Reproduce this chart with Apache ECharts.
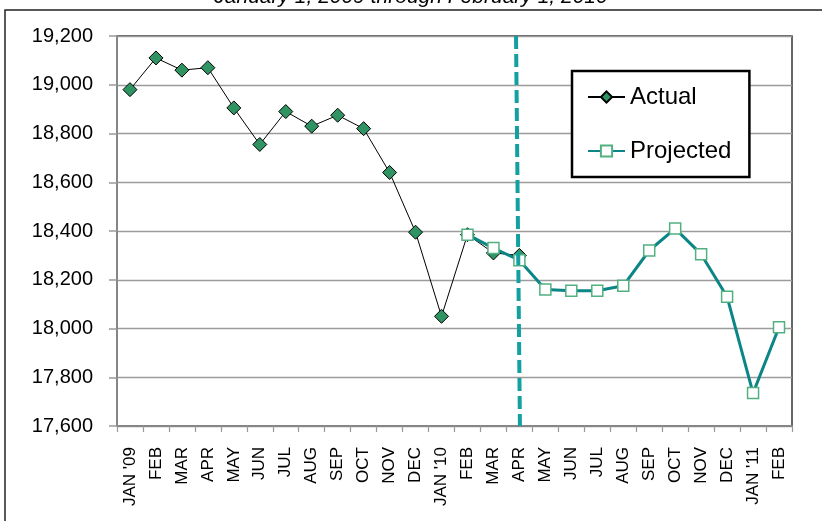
<!DOCTYPE html>
<html>
<head>
<meta charset="utf-8">
<script src="https://cdn.jsdelivr.net/npm/echarts@6/dist/echarts.min.js"></script>
<style>
  html, body { margin: 0; padding: 0; background: #fff; }
  #chart { width: 822px; height: 521px; }
</style>
</head>
<body>
<div id="chart"></div>
<script>
// ---- data ----
const titleText = "January 1, 2009 through February 1, 2010";
const months = ["JAN '09","FEB","MAR","APR","MAY","JUN","JUL","AUG","SEP","OCT","NOV","DEC",
                "JAN '10","FEB","MAR","APR","MAY","JUN","JUL","AUG","SEP","OCT","NOV","DEC",
                "JAN '11","FEB"];
const actual = [18980, 19110, 19060, 19070, 18905, 18755, 18890, 18830, 18875, 18820, 18640, 18395,
                18050, 18385, 18310, 18300];
const projected = [null, null, null, null, null, null, null, null, null, null, null, null, null,
                   18385, 18330, 18280, 18160, 18155, 18155, 18175, 18320, 18410, 18305, 18130,
                   17735, 18005];
const yMin = 17600, yMax = 19200, yStep = 200;
const seriesNames = ["Actual", "Projected"];
// divider between actual and projected (in category-slot units, top and bottom ends)
const dividerTop = 15.37, dividerBottom = 15.52;

const chart = echarts.init(document.getElementById('chart'), null, { renderer: 'canvas' });
const FONT = 'Liberation Sans';

const option = {
  animation: false,
  backgroundColor: '#fff',
  graphic: [
    { type: 'rect', silent: true, z: 0,
      shape: { x: 5, y: 10, width: 900, height: 600 },
      style: { fill: 'none', stroke: '#222', lineWidth: 1.5 } },
    { type: 'text', silent: true, z: 10,
      x: 411, y: -3,
      style: { text: titleText, fontFamily: FONT, fontStyle: 'italic', fontSize: 21,
               fill: '#000', textAlign: 'center', textVerticalAlign: 'middle' } }
  ],
  grid: {
    left: 117, top: 36, right: 30, bottom: 95,
    show: true, borderColor: '#333', borderWidth: 1.5, backgroundColor: 'transparent'
  },
  legend: {
    data: seriesNames,
    orient: 'vertical',
    left: 572, top: 71,
    padding: [14, 18, 14, 15],
    itemGap: 30,
    itemWidth: 37, itemHeight: 14,
    backgroundColor: '#fff',
    borderColor: '#000', borderWidth: 2.5, borderRadius: 0,
    textStyle: { fontFamily: FONT, fontSize: 24, color: '#000' }
  },
  xAxis: [{
    type: 'category',
    data: months,
    boundaryGap: true,
    axisLine: { show: true, lineStyle: { color: '#868686', width: 2 } },
    axisTick: { show: true, length: 6, lineStyle: { color: '#999', width: 1.2 } },
    axisLabel: { interval: 0, rotate: 90, margin: 21, fontFamily: FONT, fontSize: 17, color: '#000' },
    splitLine: { show: false }
  }, {
    type: 'value', min: 0, max: months.length, show: false, position: 'bottom'
  }],
  yAxis: {
    type: 'value',
    min: yMin, max: yMax, interval: yStep,
    axisLine: { show: true, lineStyle: { color: '#868686', width: 2 } },
    axisTick: { show: true, length: 8, lineStyle: { color: '#999', width: 1.5 } },
    axisLabel: { margin: 24, fontFamily: FONT, fontSize: 20, color: '#000',
                 formatter: v => v.toLocaleString('en-US') },
    splitLine: { show: true, lineStyle: { color: '#9b9b9b', width: 1.3 } }
  },
  series: [
    {
      name: seriesNames[0], type: 'line', data: actual, z: 3,
      symbol: 'diamond', symbolSize: 14,
      itemStyle: { color: '#2f9462', borderColor: '#000', borderWidth: 1 },
      lineStyle: { color: '#000', width: 1 }
    },
    {
      name: seriesNames[1], type: 'line', data: projected, z: 4, connectNulls: false,
      symbol: 'rect', symbolSize: 11,
      itemStyle: { color: '#fff', borderColor: '#52b080', borderWidth: 1.5 },
      lineStyle: { color: '#0b8585', width: 3 }
    },
    {
      type: 'line', xAxisIndex: 1, data: [], silent: true, z: 6,
      markLine: {
        silent: true, symbol: ['none', 'none'], label: { show: false },
        lineStyle: { color: '#12a0a0', width: 4, type: [13, 5] },
        data: [[ { coord: [dividerTop, yMax] }, { coord: [dividerBottom, yMin] } ]]
      }
    }
  ]
};
chart.setOption(option);
</script>
</body>
</html>
